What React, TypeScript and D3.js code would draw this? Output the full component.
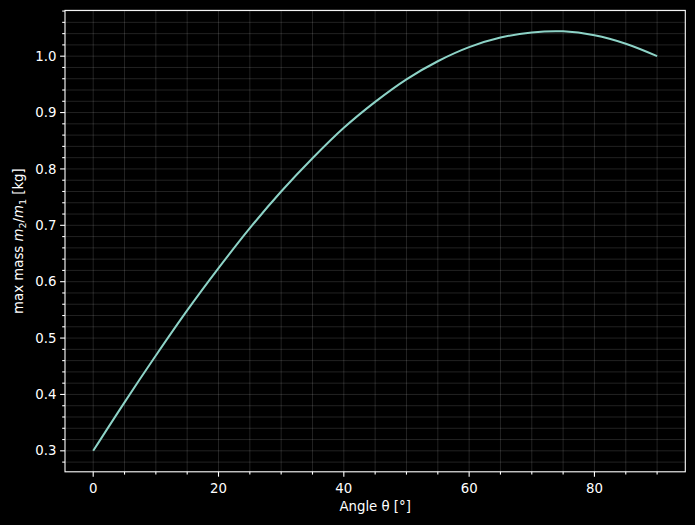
import React from "react";
import * as d3 from "d3";

const angles = [0, 5, 10, 15, 20, 25, 30, 35, 40, 45, 50, 55, 60, 65, 70, 75, 80, 85, 90];
const massRatio = [0.300, 0.386, 0.469, 0.549, 0.624, 0.695, 0.760, 0.819, 0.873, 0.919, 0.959, 0.991, 1.016, 1.033, 1.042, 1.044, 1.037, 1.022, 1.000];
const xTicks = [0, 20, 40, 60, 80];
const yTicks = [0.3, 0.4, 0.5, 0.6, 0.7, 0.8, 0.9, 1.0];

const W = 695, H = 525;
const L = 65, R = 685.3, T = 10.4, B = 471.8;

export default function App() {
  const x = d3.scaleLinear().domain([-4.5, 94.5]).range([L, R]);
  const y = d3.scaleLinear().domain([0.2628, 1.0812]).range([B, T]);
  const xMinor = d3.range(-0, 95, 5).filter((v) => v >= -4.5 && v <= 94.5);
  const yMinor = d3.range(0.28, 1.081, 0.02).map((v) => Math.round(v * 100) / 100);
  const line = d3
    .line<number>()
    .x((_, i) => x(angles[i]))
    .y((d) => y(d))
    .curve(d3.curveCatmullRom.alpha(0.5));
  const font = "DejaVu Sans, sans-serif";
  return (
    <svg width={W} height={H} style={{ position: "absolute", left: 0, top: 0, background: "#000" }}>
      <rect x={0} y={0} width={W} height={H} fill="#000" />
      {xMinor.map((v) => (
        <line key={"gx" + v} x1={x(v)} x2={x(v)} y1={T} y2={B} stroke="#ffffff" strokeOpacity={0.17} strokeWidth={0.8} />
      ))}
      {yMinor.map((v) => (
        <line key={"gy" + v} x1={L} x2={R} y1={y(v)} y2={y(v)} stroke="#ffffff" strokeOpacity={0.17} strokeWidth={0.8} />
      ))}
      <path d={line(massRatio) || ""} fill="none" stroke="#8dd3c7" strokeWidth={2} />
      <rect x={L} y={T} width={R - L} height={B - T} fill="none" stroke="#fff" strokeWidth={1.1} />
      {xMinor.map((v) => (
        <line key={"tx" + v} x1={x(v)} x2={x(v)} y1={B} y2={B + (xTicks.includes(v) ? 4.9 : 2.8)} stroke="#fff" strokeWidth={1.1} />
      ))}
      {yMinor.map((v) => (
        <line key={"ty" + v} x1={L} x2={L - (yTicks.some((t) => Math.abs(t - v) < 1e-6) ? 4.9 : 2.8)} y1={y(v)} y2={y(v)} stroke="#fff" strokeWidth={1.1} />
      ))}
      {xTicks.map((v) => (
        <text key={"lx" + v} x={x(v)} y={B + 21} fill="#fff" fontFamily={font} fontSize={13.3} textAnchor="middle">
          {v}
        </text>
      ))}
      {yTicks.map((v) => (
        <text key={"ly" + v} x={L - 8.5} y={y(v)} dy="0.35em" fill="#fff" fontFamily={font} fontSize={13.3} textAnchor="end">
          {v.toFixed(1)}
        </text>
      ))}
      <text x={(L + R) / 2} y={511} fill="#fff" fontFamily={font} fontSize={13.3} textAnchor="middle">
        Angle θ [°]
      </text>
      <text transform={`translate(22.5, ${(T + B) / 2}) rotate(-90)`} fill="#fff" fontFamily={font} fontSize={13.3} textAnchor="middle">
        max mass <tspan fontStyle="italic">m</tspan>
        <tspan fontSize={9.5} dy={3}>2</tspan>
        <tspan dy={-3}>/</tspan>
        <tspan fontStyle="italic">m</tspan>
        <tspan fontSize={9.5} dy={3}>1</tspan>
        <tspan dy={-3}> [kg]</tspan>
      </text>
    </svg>
  );
}
